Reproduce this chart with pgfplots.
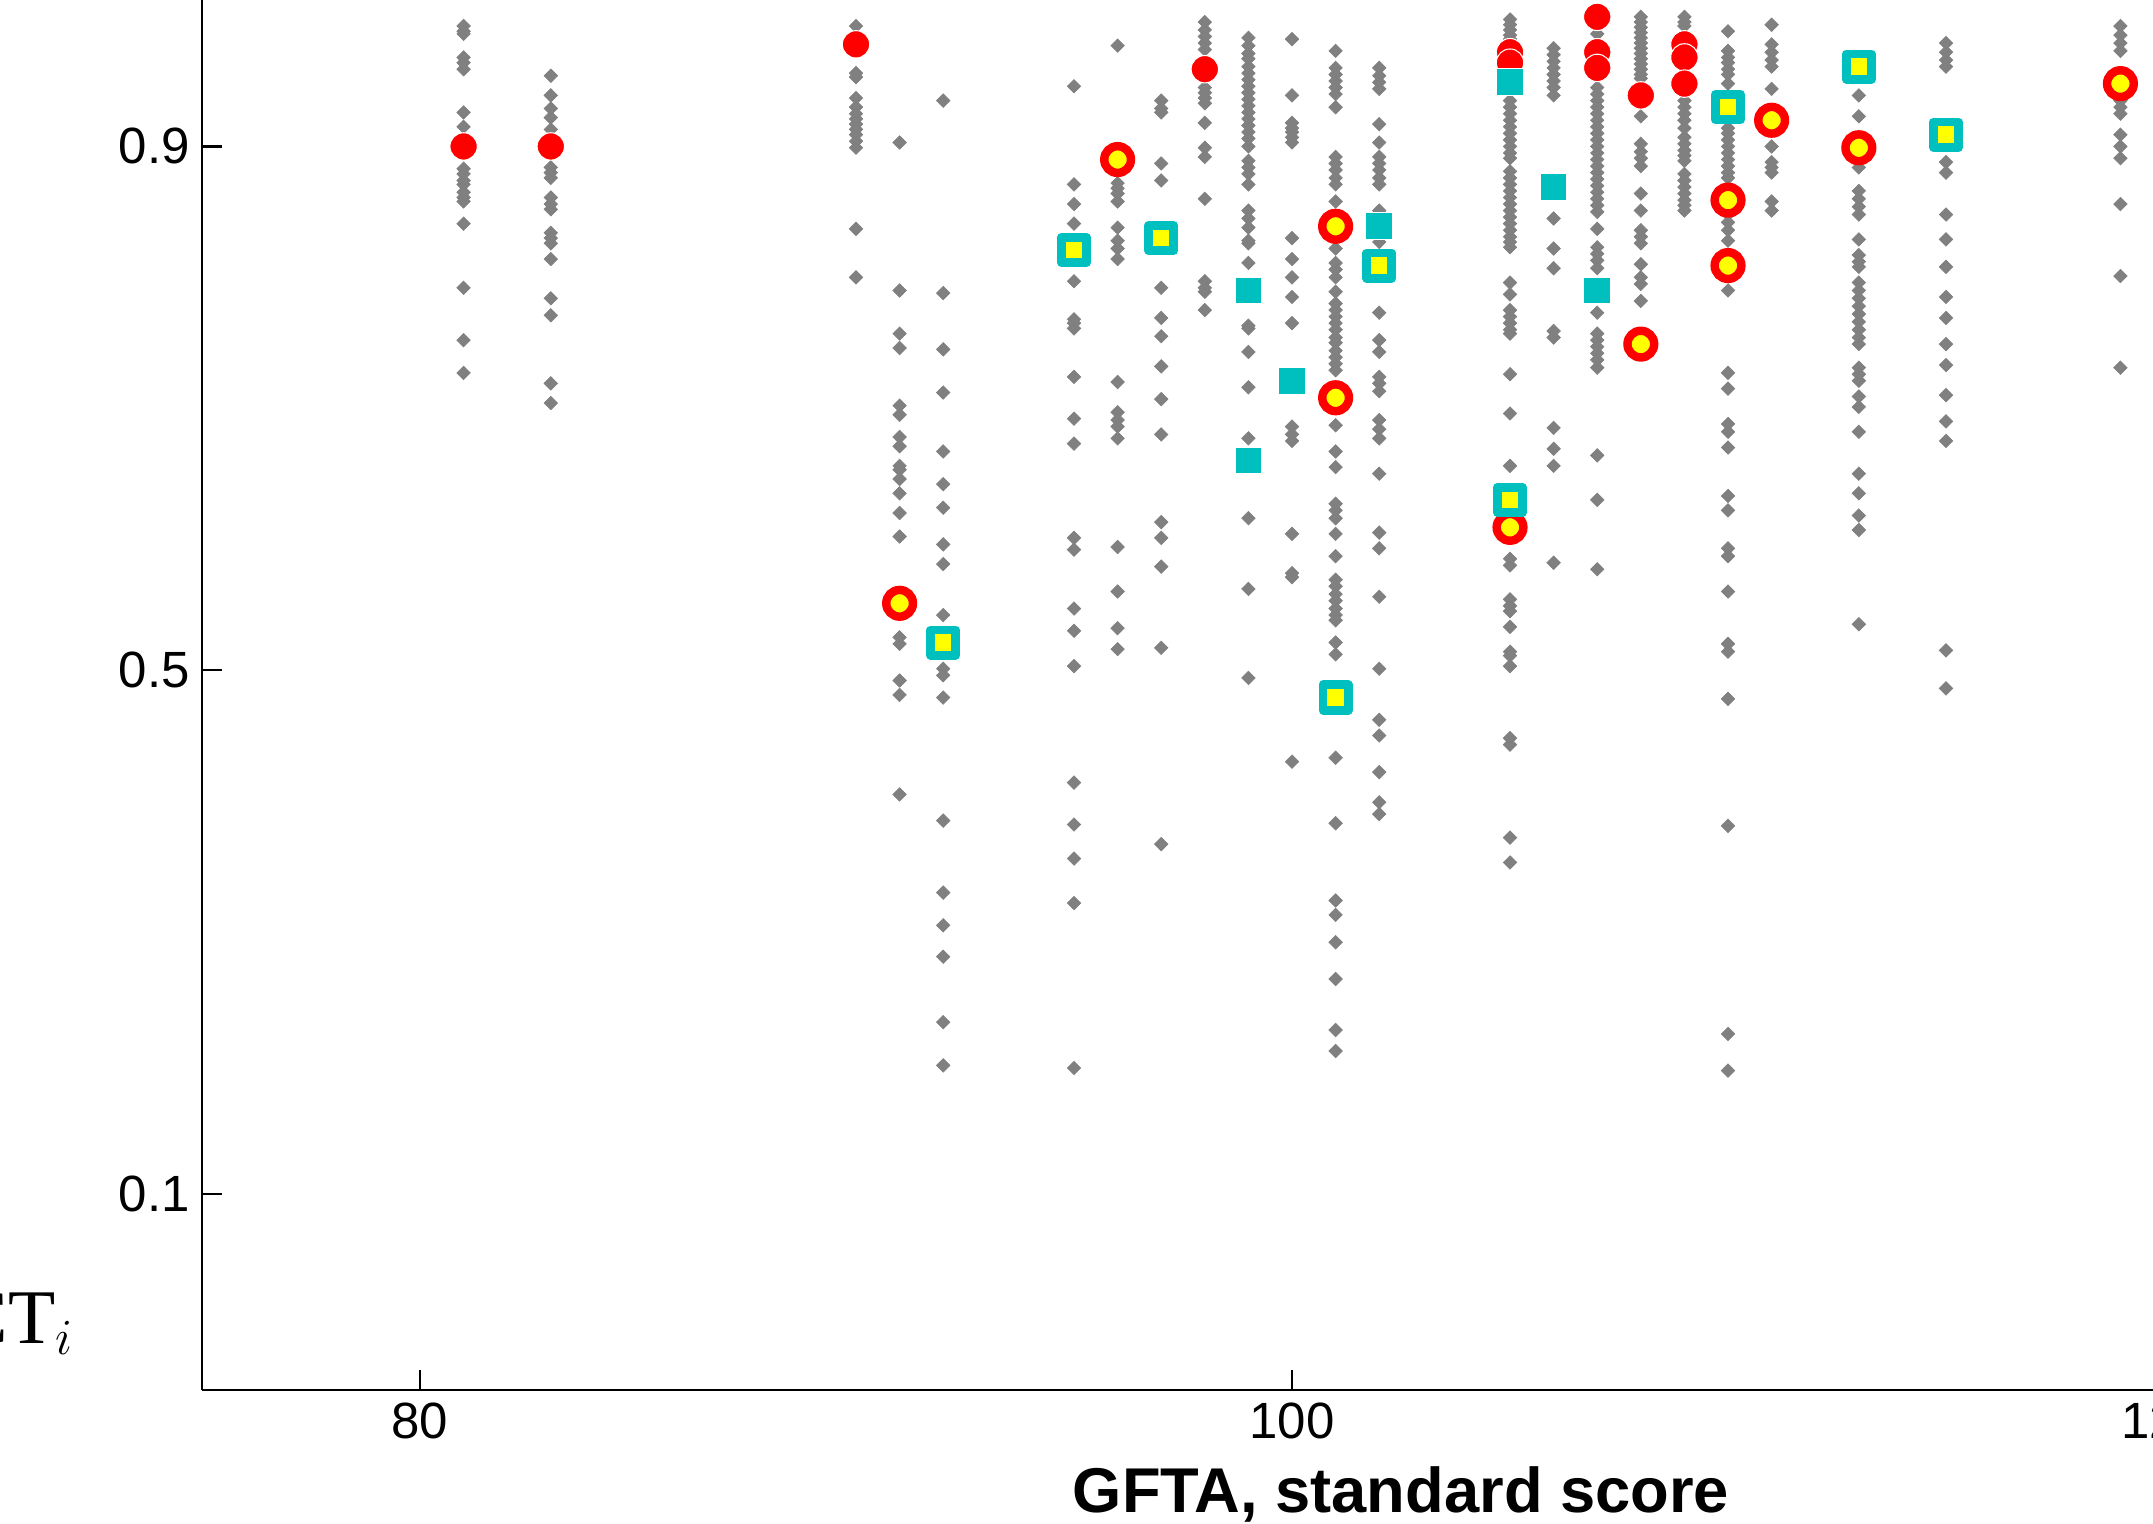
\documentclass[border=0pt]{standalone}
\usepackage{pgfplots}
\pgfplotsset{compat=1.18}
\usepackage{fontspec}
\setmainfont{Liberation Sans}
\newfontfamily\seriffont{Liberation Serif}
\definecolor{mgray}{RGB}{128,128,128}
\definecolor{mred}{RGB}{255,0,0}
\definecolor{myel}{RGB}{255,255,0}
\definecolor{mcyan}{RGB}{0,191,191}
\begin{document}
\begin{tikzpicture}
\useasboundingbox (0,0) rectangle (21.53,15.23);
\clip (0,0) rectangle (21.53,15.23);
\begin{axis}[
  at={(2.02cm,1.33cm)}, anchor=south west,
  x=0.436cm, y=13.09cm,
  xmin=75, xmax=130, ymin=-0.05, ymax=1.1,
  axis x line*=bottom, axis y line*=left,
  tick align=inside, major tick length=0.2cm,
  axis line style={line width=0.6pt, black},
  major tick style={line width=0.6pt, black},
  xtick={80,100,120}, ytick={0.1,0.5,0.9},
  /pgf/number format/assume math mode=true,
  yticklabel style={/pgf/number format/fixed, /pgf/number format/precision=1, /pgf/number format/fixed zerofill},
  tick label style={font=\fontsize{14.5}{17}\selectfont},
  xlabel={GFTA, standard score},
  xlabel style={at={(axis description cs:0.5,0)}, anchor=north, yshift=-0.76cm, inner sep=0pt, font=\bfseries\fontsize{18}{21}\selectfont},
  ylabel={PCT$_i$},
  ylabel style={rotate=-90, at={(axis description cs:-0.053,0.0306)}, anchor=base east, inner sep=0pt, font=\seriffont\fontsize{22}{26}\selectfont},
]
% gray diamonds (individual items)
\addplot[only marks, mark=square*, mark size=1.35pt, mark options={rotate=45, fill=mgray, draw=mgray, line width=0.2pt}] coordinates {
(81,0.992)(81,0.988)(81,0.986)(81,0.968)(81,0.964)(81,0.959)(81,0.926)(81,0.915)(81,0.883)(81,0.879)(81,0.874)(81,0.871)(81,0.865)(81,0.861)(81,0.858)(81,0.841)(81,0.792)(81,0.752)(81,0.727)
(83,0.954)(83,0.939)(83,0.929)(83,0.922)(83,0.913)(83,0.884)(83,0.880)(83,0.876)(83,0.861)(83,0.856)(83,0.852)(83,0.834)(83,0.830)(83,0.826)(83,0.814)(83,0.784)(83,0.771)(83,0.719)(83,0.704)
(90,0.992)(90,0.956)(90,0.953)(90,0.937)(90,0.930)(90,0.925)(90,0.921)(90,0.917)(90,0.913)(90,0.909)(90,0.904)(90,0.899)(90,0.837)(90,0.800)
(91,0.903)(91,0.790)(91,0.757)(91,0.746)(91,0.702)(91,0.695)(91,0.678)(91,0.671)(91,0.656)(91,0.653)(91,0.646)(91,0.635)(91,0.620)(91,0.602)(91,0.525)(91,0.520)(91,0.492)(91,0.481)(91,0.405)
(92,0.935)(92,0.788)(92,0.745)(92,0.712)(92,0.667)(92,0.642)(92,0.624)(92,0.596)(92,0.581)(92,0.542)(92,0.501)(92,0.496)(92,0.479)(92,0.385)(92,0.330)(92,0.305)(92,0.281)(92,0.231)(92,0.198)
(95,0.946)(95,0.871)(95,0.856)(95,0.841)(95,0.797)(95,0.768)(95,0.765)(95,0.761)(95,0.724)(95,0.692)(95,0.673)(95,0.601)(95,0.592)(95,0.547)(95,0.530)(95,0.503)(95,0.414)(95,0.382)(95,0.356)(95,0.322)(95,0.196)
(96,0.977)(96,0.872)(96,0.868)(96,0.864)(96,0.858)(96,0.838)(96,0.828)(96,0.822)(96,0.814)(96,0.720)(96,0.697)(96,0.691)(96,0.686)(96,0.677)(96,0.594)(96,0.560)(96,0.532)(96,0.516)
(97,0.935)(97,0.929)(97,0.926)(97,0.887)(97,0.874)(97,0.792)(97,0.769)(97,0.755)(97,0.732)(97,0.707)(97,0.680)(97,0.613)(97,0.601)(97,0.579)(97,0.517)(97,0.367)
(98,0.995)(98,0.989)(98,0.984)(98,0.979)(98,0.974)(98,0.945)(98,0.941)(98,0.937)(98,0.933)(98,0.918)(98,0.899)(98,0.892)(98,0.860)(98,0.797)(98,0.792)(98,0.789)(98,0.775)
(99,0.983)(99,0.977)(99,0.971)(99,0.967)(99,0.961)(99,0.956)(99,0.951)(99,0.946)(99,0.941)(99,0.936)(99,0.931)(99,0.926)(99,0.921)(99,0.916)(99,0.911)(99,0.906)(99,0.900)(99,0.889)(99,0.884)(99,0.879)(99,0.871)(99,0.851)(99,0.845)(99,0.838)(99,0.828)(99,0.826)(99,0.811)(99,0.763)(99,0.761)(99,0.743)(99,0.716)(99,0.677)(99,0.616)(99,0.562)(99,0.494)
(100,0.982)(100,0.939)(100,0.918)(100,0.914)(100,0.911)(100,0.907)(100,0.903)(100,0.830)(100,0.814)(100,0.800)(100,0.785)(100,0.765)(100,0.686)(100,0.680)(100,0.675)(100,0.604)(100,0.574)(100,0.571)(100,0.430)
(101,0.973)(101,0.960)(101,0.955)(101,0.950)(101,0.945)(101,0.940)(101,0.930)(101,0.892)(101,0.887)(101,0.882)(101,0.876)(101,0.871)(101,0.858)(101,0.822)(101,0.811)(101,0.806)(101,0.800)(101,0.789)(101,0.780)(101,0.775)(101,0.770)(101,0.765)(101,0.760)(101,0.754)(101,0.750)(101,0.744)(101,0.739)(101,0.734)(101,0.729)(101,0.687)(101,0.667)(101,0.655)(101,0.627)(101,0.622)(101,0.616)(101,0.604)(101,0.587)(101,0.569)(101,0.564)(101,0.558)(101,0.553)(101,0.547)(101,0.542)(101,0.538)(101,0.521)(101,0.512)(101,0.433)(101,0.383)(101,0.324)(101,0.313)(101,0.292)(101,0.264)(101,0.225)(101,0.209)
(102,0.960)(102,0.954)(102,0.949)(102,0.944)(102,0.917)(102,0.903)(102,0.892)(102,0.887)(102,0.882)(102,0.876)(102,0.871)(102,0.851)(102,0.827)(102,0.773)(102,0.752)(102,0.743)(102,0.724)(102,0.719)(102,0.713)(102,0.691)(102,0.684)(102,0.677)(102,0.650)(102,0.605)(102,0.593)(102,0.556)(102,0.501)(102,0.462)(102,0.450)(102,0.422)(102,0.399)(102,0.390)
(105,0.997)(105,0.993)(105,0.989)(105,0.985)(105,0.982)(105,0.935)(105,0.930)(105,0.925)(105,0.920)(105,0.915)(105,0.910)(105,0.905)(105,0.900)(105,0.895)(105,0.891)(105,0.881)(105,0.876)(105,0.871)(105,0.866)(105,0.861)(105,0.856)(105,0.851)(105,0.846)(105,0.841)(105,0.836)(105,0.831)(105,0.827)(105,0.823)(105,0.796)(105,0.787)(105,0.775)(105,0.770)(105,0.765)(105,0.760)(105,0.757)(105,0.726)(105,0.696)(105,0.656)(105,0.585)(105,0.580)(105,0.554)(105,0.549)(105,0.545)(105,0.533)(105,0.514)(105,0.511)(105,0.503)(105,0.448)(105,0.443)(105,0.372)(105,0.353)
(106,0.975)(106,0.970)(106,0.965)(106,0.960)(106,0.955)(106,0.950)(106,0.945)(106,0.939)(106,0.845)(106,0.822)(106,0.807)(106,0.759)(106,0.754)(106,0.685)(106,0.669)(106,0.656)(106,0.582)
(107,0.986)(107,0.945)(107,0.940)(107,0.935)(107,0.930)(107,0.925)(107,0.920)(107,0.915)(107,0.910)(107,0.905)(107,0.900)(107,0.895)(107,0.890)(107,0.885)(107,0.880)(107,0.875)(107,0.870)(107,0.865)(107,0.860)(107,0.855)(107,0.850)(107,0.837)(107,0.823)(107,0.818)(107,0.813)(107,0.807)(107,0.773)(107,0.757)(107,0.752)(107,0.747)(107,0.742)(107,0.737)(107,0.731)(107,0.664)(107,0.630)(107,0.577)
(108,0.999)(108,0.995)(108,0.991)(108,0.987)(108,0.983)(108,0.979)(108,0.975)(108,0.971)(108,0.967)(108,0.963)(108,0.959)(108,0.955)(108,0.952)(108,0.923)(108,0.902)(108,0.896)(108,0.891)(108,0.885)(108,0.864)(108,0.851)(108,0.836)(108,0.831)(108,0.826)(108,0.810)(108,0.800)(108,0.795)(108,0.782)
(109,0.999)(109,0.995)(109,0.992)(109,0.935)(109,0.930)(109,0.925)(109,0.920)(109,0.914)(109,0.907)(109,0.902)(109,0.897)(109,0.893)(109,0.889)(109,0.879)(109,0.874)(109,0.869)(109,0.864)(109,0.859)(109,0.855)(109,0.851)
(110,0.988)(110,0.973)(110,0.968)(110,0.964)(110,0.959)(110,0.955)(110,0.948)(110,0.914)(110,0.910)(110,0.905)(110,0.900)(110,0.895)(110,0.890)(110,0.885)(110,0.880)(110,0.876)(110,0.848)(110,0.842)(110,0.836)(110,0.828)(110,0.790)(110,0.727)(110,0.715)(110,0.688)(110,0.682)(110,0.670)(110,0.633)(110,0.622)(110,0.593)(110,0.587)(110,0.560)(110,0.520)(110,0.514)(110,0.478)(110,0.381)(110,0.222)(110,0.194)
(111,0.993)(111,0.978)(111,0.972)(111,0.966)(111,0.961)(111,0.944)(111,0.900)(111,0.888)(111,0.884)(111,0.880)(111,0.858)(111,0.851)
(113,0.939)(113,0.923)(113,0.884)(113,0.866)(113,0.860)(113,0.854)(113,0.848)(113,0.829)(113,0.817)(113,0.812)(113,0.808)(113,0.796)(113,0.790)(113,0.784)(113,0.778)(113,0.772)(113,0.766)(113,0.760)(113,0.754)(113,0.749)(113,0.731)(113,0.726)(113,0.721)(113,0.709)(113,0.701)(113,0.682)(113,0.650)(113,0.635)(113,0.618)(113,0.607)(113,0.535)
(115,0.979)(115,0.972)(115,0.966)(115,0.961)(115,0.888)(115,0.880)(115,0.848)(115,0.829)(115,0.808)(115,0.785)(115,0.769)(115,0.749)(115,0.733)(115,0.710)(115,0.690)(115,0.675)(115,0.515)(115,0.486)
(119,0.992)(119,0.985)(119,0.979)(119,0.973)(119,0.935)(119,0.930)(119,0.925)(119,0.909)(119,0.900)(119,0.891)(119,0.856)(119,0.801)(119,0.731)
};
% red filled circles
\addplot[only marks, mark=*, mark size=3.9pt, mark options={fill=mred, draw=white, line width=0.3pt}] coordinates {
(81,0.900)(83,0.900)(90,0.978)(98,0.959)(105,0.972)(105,0.964)(107,0.999)(107,0.972)(107,0.960)(108,0.939)(109,0.978)(109,0.968)(109,0.948)
};
% red circles, yellow centre
\addplot[only marks, mark=*, mark size=3.8pt, mark options={fill=myel, draw=mred, line width=2.4pt}] coordinates {
(91,0.551)(96,0.890)(101,0.839)(101,0.708)(105,0.609)(108,0.749)(110,0.859)(110,0.809)(111,0.920)(113,0.899)(119,0.948)
};
% cyan filled squares
\addplot[only marks, mark=square*, mark size=3.8pt, mark options={fill=mcyan, draw=white, line width=0.3pt}] coordinates {
(99,0.790)(99,0.660)(100,0.721)(102,0.839)(105,0.949)(106,0.869)(107,0.790)
};
% cyan squares, yellow centre
\addplot[only marks, mark=square*, mark size=3.6pt, mark options={fill=myel, draw=mcyan, line width=2.5pt, line join=round}] coordinates {
(92,0.521)(95,0.821)(97,0.830)(101,0.479)(102,0.809)(105,0.630)(110,0.930)(113,0.961)(115,0.909)
};
\end{axis}
\end{tikzpicture}
\end{document}
